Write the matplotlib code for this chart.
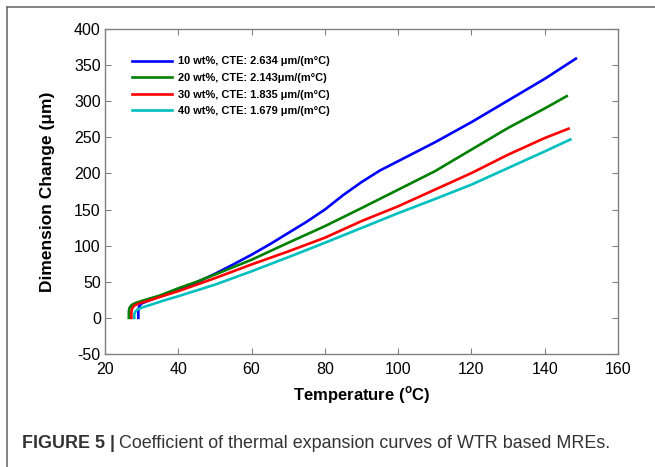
import matplotlib
matplotlib.use('Agg')
import matplotlib.pyplot as plt
from matplotlib.lines import Line2D

plt.rcParams['font.family'] = ['Liberation Sans', 'DejaVu Sans']
plt.rcParams['mathtext.fontset'] = 'custom'
plt.rcParams['mathtext.rm'] = 'Liberation Sans'
plt.rcParams['mathtext.bf'] = 'Liberation Sans:bold'
plt.rcParams['axes.unicode_minus'] = False

# dimension change (um) vs temperature (C) for each WTR loading
temp_10 = [29.1, 29.1, 29.3, 30.0, 31.5, 35, 40, 45, 50, 55, 60, 65, 70, 75, 80, 85, 90,
           95, 100, 110, 120, 130, 140, 148.5]
dc_10 = [0, 10, 16, 20, 23, 30, 39, 49, 61, 74, 87.5, 102, 117.5, 133, 150, 170, 188,
         204, 217, 243, 271, 301, 331, 359]

temp_20 = [26.5, 26.5, 26.7, 27.3, 28.5, 31, 35, 40, 45, 50, 60, 70, 80, 90, 100, 110,
           120, 130, 140, 146]
dc_20 = [0, 9, 14, 18, 21, 25, 31, 41, 50, 60, 80.5, 104, 127, 152, 177.5, 203,
         233, 263, 290, 307]

temp_30 = [27.2, 27.2, 27.4, 28.0, 29.2, 32, 35, 40, 50, 60, 70, 80, 90, 100, 110, 120,
           130, 140, 146.5]
dc_30 = [0, 8, 13, 17, 20, 24, 29, 37, 55, 74, 92, 111, 134, 154.5, 177.5, 200.5,
         226, 249, 262]

temp_40 = [28.0, 28.0, 28.3, 29.0, 30.5, 33, 36, 40, 50, 60, 70, 80, 90, 100, 110, 120,
           130, 140, 147]
dc_40 = [0, 5, 9, 12, 15, 19, 24, 30, 46, 64.5, 84, 104, 124.5, 145, 164.5, 184.5,
         207.5, 230.5, 247]

labels = ['10 wt%, CTE: 2.634 \u03bcm/(m\u00b0C)',
          '20 wt%, CTE: 2.143\u03bcm/(m\u00b0C)',
          '30 wt%, CTE: 1.835 \u03bcm/(m\u00b0C)',
          '40 wt%, CTE: 1.679 \u03bcm/(m\u00b0C)']
colors = ['#0000ff', '#008000', '#ff0000', '#00bfbf']

xticks = [20, 40, 60, 80, 100, 120, 140, 160]
yticks = [-50, 0, 50, 100, 150, 200, 250, 300, 350, 400]

fig = plt.figure(figsize=(6.55, 4.67), dpi=100)
ax = fig.add_axes([105 / 655, 1 - 354 / 467, 513 / 655, 325 / 467])

series = [(temp_10, dc_10), (temp_20, dc_20), (temp_30, dc_30), (temp_40, dc_40)]
for (t, d), c, lab in zip(series, colors, labels):
    ax.plot(t, d, color=c, lw=1.9, label=lab)

ax.set_xlim(20, 160)
ax.set_ylim(-50, 400)
ax.set_xticks(xticks)
ax.set_yticks(yticks)
ax.tick_params(direction='in', length=4, width=0.8, color='#808080',
               top=True, right=True, labelsize=11.5, labelcolor='black')
ax.tick_params(axis='x', pad=6)
ax.tick_params(axis='y', pad=3)
for sp in ax.spines.values():
    sp.set_color('#808080')
    sp.set_linewidth(1.0)

ax.set_xlabel(r'Temperature ($^{\mathbf{o}}$C)', fontsize=12, fontweight='bold',
              labelpad=5)
ax.set_ylabel('Dimension Change (\u03bcm)', fontsize=12.5, fontweight='bold',
              labelpad=14)

leg = ax.legend(loc='upper left', bbox_to_anchor=(0.033, 0.946), frameon=False,
                handlelength=3.7, handletextpad=0.5, labelspacing=0.6,
                prop={'weight': 'bold', 'size': 7.9})

# outer frame of the figure panel
fig.add_artist(Line2D([7 / 655, 7 / 655], [0, 1 - 7 / 467], color='#707070', lw=1.2))
fig.add_artist(Line2D([7 / 655, 1], [1 - 7 / 467, 1 - 7 / 467], color='#707070', lw=1.2))

# caption
fig.canvas.draw()
r = fig.canvas.get_renderer()
t1 = fig.text(22 / 655, 1 - 443 / 467, 'FIGURE 5 |', fontsize=12.9, fontweight='bold',
              color='#333333', va='center')
bb = t1.get_window_extent(r)
fig.text((bb.x1 + 4) / 655, 1 - 443 / 467,
         'Coefficient of thermal expansion curves of WTR based MREs.',
         fontsize=12.9, color='#333333', va='center')

fig.savefig('out.png', dpi=100)
